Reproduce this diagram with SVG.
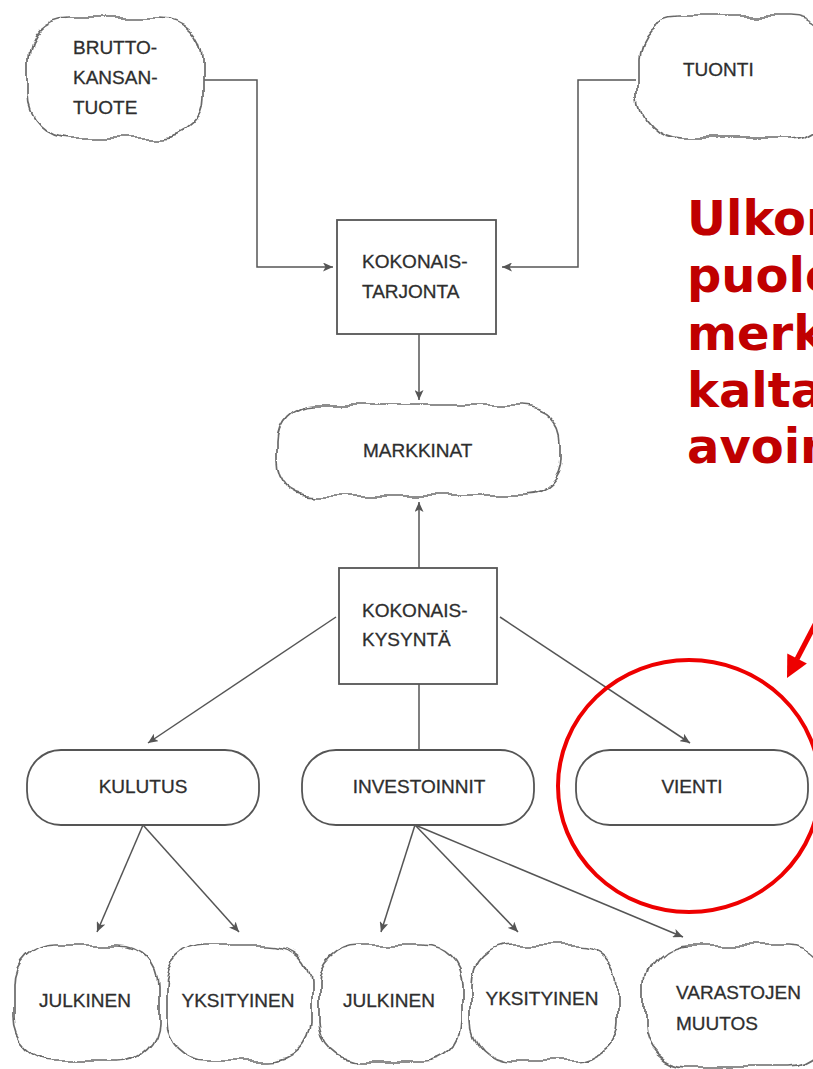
<svg xmlns="http://www.w3.org/2000/svg" width="813" height="1069" viewBox="0 0 813 1069">
<style>
.cloud{fill:#fff;stroke:#6a6a6a;stroke-width:1.7;filter:url(#wob)}
.box{fill:#fff;stroke:#555;stroke-width:1.8}
.lbl{font-family:"Liberation Sans",Arial,sans-serif;font-size:19px;fill:#2e2e2e;stroke:#2e2e2e;stroke-width:0.3}
.mid{text-anchor:middle}
.con{fill:none;stroke:#555;stroke-width:1.5}
.red{font-family:"DejaVu Sans",Verdana,sans-serif;font-weight:bold;font-size:48px;fill:#c00000}
</style>
<defs>
<filter id="wob" x="-15%" y="-15%" width="130%" height="130%" filterUnits="objectBoundingBox">
<feTurbulence type="fractalNoise" baseFrequency="0.035" numOctaves="1" seed="5" result="n"/>
<feDisplacementMap in="SourceGraphic" in2="n" scale="16" xChannelSelector="R" yChannelSelector="G"/>
</filter>
<marker id="ah" markerUnits="userSpaceOnUse" markerWidth="11" markerHeight="9" refX="10" refY="4.5" orient="auto">
<path d="M0,0 L10,4.5 L0,9 L2.5,4.5 z" fill="#555"/>
</marker>
</defs>
<rect width="813" height="1069" fill="#fff"/>

<g id="connectors">
<path class="con" d="M203,80 H257 V267 H333" marker-end="url(#ah)"/>
<path class="con" d="M636,80 H578 V267 H502" marker-end="url(#ah)"/>
<path class="con" d="M419,334 V400" marker-end="url(#ah)"/>
<path class="con" d="M419,568 V502" marker-end="url(#ah)"/>
<path class="con" d="M336,617 L148,743" marker-end="url(#ah)"/>
<path class="con" d="M500,617 L690,743" marker-end="url(#ah)"/>
<path class="con" d="M419,684 V750"/>
<path class="con" d="M143,825 L97,932" marker-end="url(#ah)"/>
<path class="con" d="M143,825 L239,932" marker-end="url(#ah)"/>
<path class="con" d="M415,825 L381,932" marker-end="url(#ah)"/>
<path class="con" d="M415,825 L518,932" marker-end="url(#ah)"/>
<path class="con" d="M415,825 L683,937" marker-end="url(#ah)"/>
</g>

<g id="bkt">
<rect class="cloud" x="28" y="17" width="175" height="121" rx="42"/>
<text class="lbl" x="73" y="54">BRUTTO-</text>
<text class="lbl" x="73" y="84">KANSAN-</text>
<text class="lbl" x="73" y="114">TUOTE</text>
</g>
<g id="tuonti">
<rect class="cloud" x="638" y="17" width="195" height="121" rx="42"/>
<text class="lbl" x="683" y="76">TUONTI</text>
</g>
<g id="tarjonta">
<rect class="box" x="337" y="220" width="159" height="114"/>
<text class="lbl" x="362" y="268">KOKONAIS-</text>
<text class="lbl" x="362" y="298">TARJONTA</text>
</g>
<g id="markkinat">
<rect class="cloud" x="276" y="405" width="287" height="91" rx="38"/>
<text class="lbl" x="363" y="457">MARKKINAT</text>
</g>
<g id="kysynta">
<rect class="box" x="339" y="568" width="158" height="116"/>
<text class="lbl" x="362" y="617">KOKONAIS-</text>
<text class="lbl" x="362" y="646">KYSYNTÄ</text>
</g>
<g id="kulutus">
<rect class="box" x="27" y="750" width="232" height="75" rx="34"/>
<text class="lbl mid" x="143" y="793">KULUTUS</text>
</g>
<g id="investoinnit">
<rect class="box" x="302" y="750" width="232" height="75" rx="34"/>
<text class="lbl mid" x="419" y="793">INVESTOINNIT</text>
</g>
<g id="vienti">
<rect class="box" x="576" y="750" width="232" height="75" rx="34"/>
<text class="lbl mid" x="692" y="793">VIENTI</text>
</g>
<g id="julkinen1">
<rect class="cloud" x="15" y="945" width="143" height="116" rx="40"/>
<text class="lbl mid" x="85" y="1007">JULKINEN</text>
</g>
<g id="yksityinen1">
<rect class="cloud" x="166" y="945" width="145" height="116" rx="40"/>
<text class="lbl mid" x="238" y="1007">YKSITYINEN</text>
</g>
<g id="julkinen2">
<rect class="cloud" x="319" y="945" width="144" height="116" rx="40"/>
<text class="lbl mid" x="389" y="1007">JULKINEN</text>
</g>
<g id="yksityinen2">
<rect class="cloud" x="472" y="945" width="146" height="116" rx="40"/>
<text class="lbl mid" x="542" y="1005">YKSITYINEN</text>
</g>
<g id="varastojen">
<rect class="cloud" x="645" y="945" width="185" height="122" rx="42"/>
<text class="lbl" x="676" y="999">VARASTOJEN</text>
<text class="lbl" x="676" y="1030">MUUTOS</text>
</g>

<g id="annotation">
<text class="red" x="687" y="235">Ulkom</text>
<text class="red" x="687" y="292">puole</text>
<text class="red" x="687" y="350">merk</text>
<text class="red" x="687" y="407">kalta</text>
<text class="red" x="687" y="463">avoin</text>
<ellipse cx="689" cy="786" rx="131" ry="126" fill="none" stroke="#ee0000" stroke-width="4"/>
<line x1="822" y1="611" x2="797" y2="659" stroke="#ee0000" stroke-width="5"/>
<polygon points="787,678 787.3,653.4 806.9,663.6" fill="#ee0000"/>
</g>
</svg>
